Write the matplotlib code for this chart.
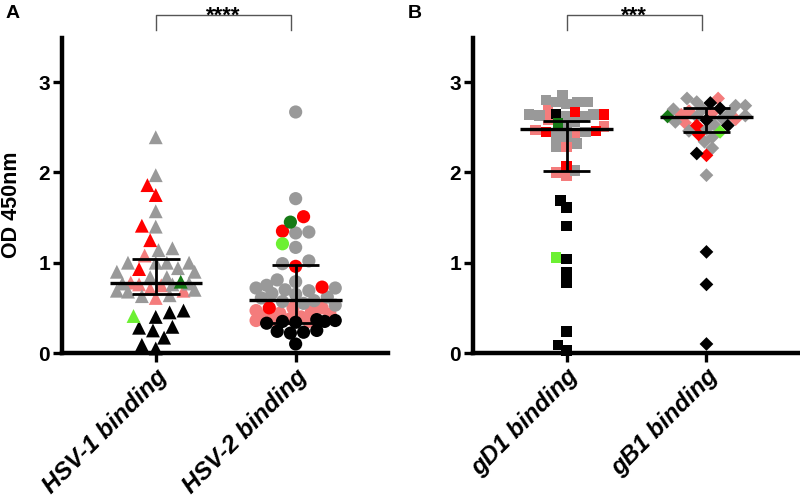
import numpy as np
import matplotlib
matplotlib.use("Agg")
import matplotlib.pyplot as plt

plt.rcParams["font.family"] = ["Liberation Sans", "DejaVu Sans"]

# ==========================================
# 1. OD 450nm values, grouped by donor colour
# ==========================================
hsv1 = {
    "gray": [2.39, 1.97, 1.57, 1.40, 1.16, 1.14, 1.00, 1.00, 1.00, 1.00, 0.94, 0.90, 0.90,
             0.84, 0.84, 0.77, 0.77, 0.76, 0.70, 0.69, 0.68, 0.64, 0.63],
    "pink": [1.08, 0.78, 0.76, 0.75, 0.71, 0.69, 0.61],
    "red": [1.86, 1.75, 1.41, 1.25, 0.93],
    "black": [0.47, 0.45, 0.40, 0.29, 0.28, 0.25, 0.17, 0.09, 0.05],
    "dkgreen": [0.79],
    "ltgreen": [0.41],
}
hsv2 = {
    "gray": [2.67, 1.71, 1.34, 1.33, 1.17, 1.02, 0.99, 0.81, 0.79, 0.75, 0.72, 0.69, 0.65,
             0.61, 0.57, 0.53, 0.55, 0.58, 0.62, 0.66, 0.70, 0.72],
    "pink": [0.50, 0.47, 0.44, 0.41, 0.38, 0.36, 0.35, 0.37, 0.40, 0.43, 0.46, 0.50],
    "red": [1.51, 1.35, 0.96, 0.73, 0.50],
    "black": [0.37, 0.36, 0.35, 0.35, 0.34, 0.33, 0.25, 0.23, 0.22, 0.24, 0.10],
    "dkgreen": [1.45],
    "ltgreen": [1.21],
}
gd1 = {
    "gray": [2.86, 2.80, 2.78, 2.78, 2.78, 2.76, 2.64, 2.63, 2.62, 2.62, 2.64, 2.56, 2.50,
             2.45, 2.41, 2.39, 2.32, 2.29, 2.02],
    "pink": [2.69, 2.58, 2.51, 2.47, 2.44, 2.28, 2.00, 1.96],
    "red": [2.67, 2.64, 2.46, 2.45, 2.07],
    "black": [2.65, 1.69, 1.61, 1.41, 1.04, 0.89, 0.78, 0.24, 0.09, 0.03],
    "dkgreen": [2.55],
    "ltgreen": [1.06],
}
gb1 = {
    "gray": [2.82, 2.78, 2.74, 2.74, 2.70, 2.70, 2.66, 2.63, 2.62, 2.60, 2.56, 2.53, 2.48,
             2.46, 2.39, 2.34, 2.27, 1.97],
    "pink": [2.82, 2.68, 2.66, 2.64, 2.59, 2.55],
    "red": [2.52, 2.42, 2.19],
    "black": [2.77, 2.71, 2.58, 2.52, 2.21, 1.12, 0.76, 0.10],
    "dkgreen": [2.62],
    "ltgreen": [2.45],
}

# median and interquartile range
hsv_median = [0.775, 0.59]
hsv_q1 = [0.65, 0.33]
hsv_q3 = [1.04, 0.97]
gly_median = [2.48, 2.62]
gly_q1 = [2.02, 2.45]
gly_q3 = [2.57, 2.71]

hsv_labels = ["HSV-1 binding", "HSV-2 binding"]
gly_labels = ["gD1 binding", "gB1 binding"]
stars = ["****", "***"]

colours = {"gray": "#999999", "pink": "#f47c7c", "red": "#ff0000",
           "black": "#000000", "dkgreen": "#167a16", "ltgreen": "#6cf032"}
draw_order = ["pink", "gray", "red", "black", "dkgreen", "ltgreen"]


# ===========================================
# 2. simple beeswarm placement (pixel space)
# ===========================================
def swarm_offsets(ax, values, centre, size_px, half_px):
    values = np.asarray(values)
    pts = np.column_stack([np.full(len(values), centre), values])
    ys = ax.transData.transform(pts)[:, 1]
    step = size_px / 5
    cands = [0.0]
    k = 1
    while k * step <= half_px:
        cands += [-k * step, k * step]
        k += 1
    offs = np.zeros(len(values))
    placed = []
    for i in np.argsort(values, kind="stable"):
        best, best_d = 0.0, -1
        for c in cands:
            d = min([np.hypot(c - px, ys[i] - py) for px, py in placed], default=1e9)
            if d >= size_px * 0.9:
                best = c
                break
            if d > best_d:
                best, best_d = c, d
        offs[i] = best
        placed.append((best, ys[i]))
    unit = ax.transData.transform((1, 0))[0] - ax.transData.transform((0, 0))[0]
    return offs / unit


def draw_group(ax, group, centre, marker, msize):
    vals, cols = [], []
    for name in draw_order:
        vals += group[name]
        cols += [colours[name]] * len(group[name])
    size_px = msize * ax.figure.dpi / 72
    offs = swarm_offsets(ax, vals, centre, size_px, 40)
    ax.scatter(centre + offs, vals, s=msize ** 2, marker=marker, c=cols,
               linewidths=0, zorder=2, clip_on=False)


def style_axes(ax, labels):
    ax.set_xlim(-0.67, 1.66)
    ax.set_ylim(0, 3.49)
    for side in ["top", "right"]:
        ax.spines[side].set_visible(False)
    for side in ["left", "bottom"]:
        ax.spines[side].set_linewidth(3.2)
    ax.set_yticks([0, 1, 2, 3])
    ax.set_yticklabels(["0", "1", "2", "3"], fontsize=15, fontweight="bold")
    ax.set_xticks([0, 1])
    ax.set_xticklabels(labels, rotation=45, ha="right", va="top", rotation_mode="anchor",
                       fontsize=17.5, fontweight="bold", fontstyle="italic")
    ax.tick_params(width=2.4, length=6.5, direction="out", pad=2)


def summary(ax, med, q1, q3):
    for i in range(2):
        ax.hlines(med[i], i - 0.33, i + 0.33, color="black", lw=2.4, zorder=4)
        ax.vlines(i, q1[i], q3[i], color="black", lw=2.0, zorder=4)
        ax.hlines([q1[i], q3[i]], i - 0.17, i + 0.17, color="black", lw=2.0, zorder=4)


def bracket(ax, text):
    ax.plot([0, 0, 0.97, 0.97], [3.58, 3.74, 3.74, 3.58], color="#555555", lw=1.0,
            clip_on=False)
    ax.text(0.485, 3.675, text, ha="center", va="baseline", fontsize=16, fontweight="bold",
            clip_on=False)


# ================
# 3. build figure
# ================
fig = plt.figure(figsize=(8, 5.01), dpi=100)
ax_a = fig.add_axes([0.0775, 0.2954, 0.4075, 0.6288])
ax_b = fig.add_axes([0.591, 0.2954, 0.4075, 0.6288])
style_axes(ax_a, hsv_labels)
style_axes(ax_b, gly_labels)

draw_group(ax_a, hsv1, 0, "^", 10)
draw_group(ax_a, hsv2, 1, "o", 9.5)
draw_group(ax_b, gd1, 0, "s", 7.5)
draw_group(ax_b, gb1, 1, "D", 7)

summary(ax_a, hsv_median, hsv_q1, hsv_q3)
summary(ax_b, gly_median, gly_q1, gly_q3)

bracket(ax_a, stars[0])
bracket(ax_b, stars[1])

ax_a.set_ylabel("OD 450nm", fontsize=15.5, fontweight="bold")
ax_a.yaxis.set_label_coords(-0.123, 0.47)

fig.text(6 / 800, 1 - 14 / 501, "A", fontsize=14, fontweight="bold", va="center")
fig.text(408 / 800, 1 - 14 / 501, "B", fontsize=14, fontweight="bold", va="center")

fig.savefig("out.png", dpi=100)
